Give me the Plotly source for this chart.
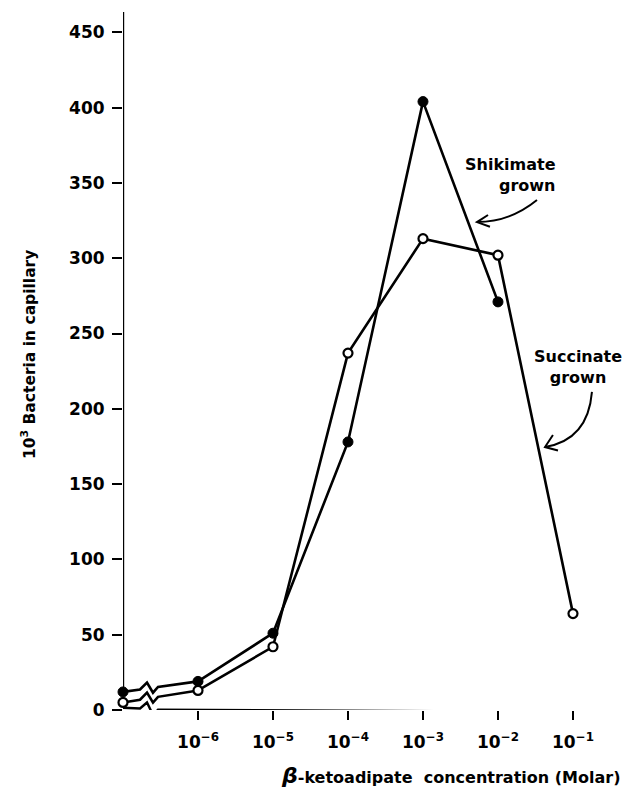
import plotly.graph_objects as go

# ---- data ----
# x positions as log10(molar concentration); control (no attractant) sits at the origin
control_pos = -7
conc_exp = [-6, -5, -4, -3, -2, -1]
tick_labels = ["10<sup>−6</sup>", "10<sup>−5</sup>", "10<sup>−4</sup>",
               "10<sup>−3</sup>", "10<sup>−2</sup>", "10<sup>−1</sup>"]
y_ticks = [0, 50, 100, 150, 200, 250, 300, 350, 400, 450]

shikimate_control = 12
shikimate_vals = [19, 51, 178, 404, 271]          # 1e-6 .. 1e-2
succinate_control = 5
succinate_vals = [13, 42, 237, 313, 302, 64]      # 1e-6 .. 1e-1

FONT = "DejaVu Sans, sans-serif"
X_MIN, X_MAX = -7.0, -0.253
Y_MAX = 463.5

def zig_segment(x0, y0, x1, y1):
    """Line from control to first concentration with a scale-break zigzag."""
    def lin(x):
        return y0 + (y1 - y0) * (x - x0) / (x1 - x0)
    xs = [x0, -6.773, -6.68, -6.60, -6.533, x1]
    offs = [0, 0, 4.0, -3.3, 0, 0]
    ys = [lin(x) + o for x, o in zip(xs, offs)]
    ys[0], ys[-1] = y0, y1
    return xs, ys

fig = go.Figure()

line_style = dict(color="black", width=2.6)

# zigzag control segments
for c, v in [(shikimate_control, shikimate_vals[0]), (succinate_control, succinate_vals[0])]:
    zx, zy = zig_segment(control_pos, c, conc_exp[0], v)
    fig.add_trace(go.Scatter(x=zx, y=zy, mode="lines", line=line_style,
                             hoverinfo="skip", showlegend=False, cliponaxis=False))

# main lines
fig.add_trace(go.Scatter(x=conc_exp[:len(shikimate_vals)], y=shikimate_vals, mode="lines",
                         line=line_style, showlegend=False, cliponaxis=False))
fig.add_trace(go.Scatter(x=conc_exp, y=succinate_vals, mode="lines",
                         line=line_style, showlegend=False, cliponaxis=False))

# markers
fig.add_trace(go.Scatter(x=[control_pos] + conc_exp[:len(shikimate_vals)],
                         y=[shikimate_control] + shikimate_vals, mode="markers",
                         name="Shikimate grown",
                         marker=dict(symbol="circle", size=10, color="black",
                                     line=dict(color="black", width=1)),
                         showlegend=False, cliponaxis=False))
fig.add_trace(go.Scatter(x=[control_pos] + conc_exp, y=[succinate_control] + succinate_vals,
                         mode="markers", name="Succinate grown",
                         marker=dict(symbol="circle", size=9, color="white",
                                     line=dict(color="black", width=2.2)),
                         showlegend=False, cliponaxis=False))

# axis lines (x axis with scale-break zigzag, y axis down to control marker)
xz = [X_MIN, -6.773, -6.68, -6.60, -6.533, X_MAX]
yz = [1.5, 1.0, 5.0, -3.3, 0.2, -1.5]
path = "M " + " L ".join(f"{a},{b}" for a, b in zip(xz, yz))
shapes = [
    dict(type="path", path=path, xref="x", yref="y", line=dict(color="black", width=2.4)),
    dict(type="line", xref="x", yref="y", x0=X_MIN, x1=X_MIN, y0=shikimate_control, y1=Y_MAX,
         line=dict(color="black", width=2.4)),
    # curved arrows
    dict(type="path", xref="x", yref="y", path="M -1.48,338.6 Q -1.84,324 -2.28,324",
         line=dict(color="black", width=2)),
    dict(type="path", xref="x", yref="y", path="M -2.133,328.7 L -2.28,324 L -2.107,320.9",
         line=dict(color="black", width=2)),
    dict(type="path", xref="x", yref="y", path="M -0.747,211.2 Q -0.8,179.3 -1.373,174.6",
         line=dict(color="black", width=2)),
    dict(type="path", xref="x", yref="y", path="M -1.267,182.6 L -1.373,174.6 L -1.2,172.3",
         line=dict(color="black", width=2)),
]

annotations = [
    dict(x=-1.2, y=355, xref="x", yref="y", text="<b>Shikimate<br>grown</b>", showarrow=False,
         xanchor="right", yanchor="middle", align="right",
         font=dict(family=FONT, size=16, color="black")),
    dict(x=-0.93, y=228, xref="x", yref="y", text="<b>Succinate<br>grown</b>", showarrow=False,
         xanchor="center", yanchor="middle", align="center",
         font=dict(family=FONT, size=16, color="black")),
    dict(x=(450 - 123) / 506, y=-(775 - 710) / 698, xref="paper", yref="paper",
         text="<b><i><span style='font-size:22px'>β</span></i>-ketoadipate  concentration (Molar)</b>",
         showarrow=False, xanchor="center", yanchor="middle",
         font=dict(family=FONT, size=16, color="black")),
    dict(x=(28 - 123) / 506, y=(710 - 355) / 698, xref="paper", yref="paper", textangle=-90,
         text="<b>10<sup>3</sup> Bacteria in capillary</b>",
         showarrow=False, xanchor="center", yanchor="middle",
         font=dict(family=FONT, size=15.5, color="black")),
]

fig.update_layout(
    width=629, height=789,
    margin=dict(l=123, r=0, t=12, b=79),
    paper_bgcolor="white", plot_bgcolor="white",
    shapes=shapes, annotations=annotations,
    xaxis=dict(range=[X_MIN, X_MAX], tickvals=conc_exp, ticktext=tick_labels,
               showgrid=False, zeroline=False, showline=False,
               ticks="outside", ticklen=9, tickwidth=2.2, tickcolor="black",
               ticklabelstandoff=8,
               tickfont=dict(family=FONT, size=17, color="black", weight="bold")),
    yaxis=dict(range=[0, Y_MAX], tickvals=y_ticks,
               showgrid=False, zeroline=False, showline=False,
               ticks="outside", ticklen=10, tickwidth=2.2, tickcolor="black",
               ticklabelstandoff=4,
               tickfont=dict(family=FONT, size=17, color="black", weight="bold")),
)

fig.write_html("out.html", config={"displayModeBar": False},
               post_script="document.body.style.margin='0';document.body.style.padding='0';")
